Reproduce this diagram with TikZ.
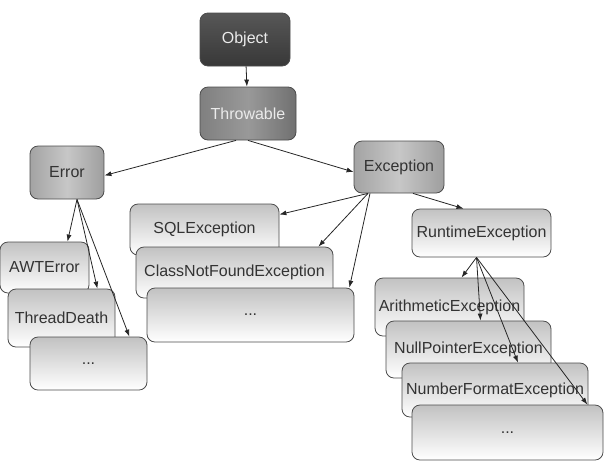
\documentclass[tikz,border=0pt]{standalone}
\usepackage{fontspec}
\setmainfont{Liberation Sans}
\usetikzlibrary{arrows.meta}
\tikzset{
  cls/.style={draw=black!70,line width=0.8pt,rounded corners=8pt,inner sep=2pt,
    font=\fontsize{16}{19}\selectfont,text=black!80},
  root/.style={cls,top color=black!66,bottom color=black!78,text=white!92!black},
  mid/.style={cls,left color=black!50,right color=black!56,middle color=black!40,text=white!92!black},
  base/.style={cls,left color=black!36,right color=black!38,middle color=black!22},
  leaf/.style={cls,top color=black!24,bottom color=white},
  link/.style={line width=0.8pt,draw=black!85}
}
\begin{document}
\begin{tikzpicture}[x=1pt,y=-1pt,>={Latex[length=7pt,width=5pt]}]
\useasboundingbox (0,0) rectangle (615,467);
\node[root,minimum width=90pt,minimum height=53pt] (obj) at (245,39.5) {Object};
\node[mid,minimum width=96pt,minimum height=53pt] (thr) at (248,113.5) {Throwable};
\node[base,minimum width=74pt,minimum height=53pt] (err) at (67,172.5) {Error};
\node[base,minimum width=90pt,minimum height=52pt] (exc) at (399,167) {Exception};
\node[leaf,minimum width=139pt,minimum height=48pt] (rt) at (481.5,233) {RuntimeException};
% Error subclasses
\node[leaf,minimum width=89pt,minimum height=51pt] (awt) at (44.5,267.5) {AWTError};
\node[leaf,minimum width=107pt,minimum height=58pt] (tde) at (61.5,318) {ThreadDeath};
\node[leaf,minimum width=117pt,minimum height=53pt] (ldots) at (88.5,363.5) {...};
% checked exceptions
\node[leaf,minimum width=149pt,minimum height=51pt] (sql) at (204.5,229.5) {SQLException};
\node[leaf,minimum width=197pt,minimum height=51pt] (cnf) at (234.5,272.5) {ClassNotFoundException};
\node[leaf,minimum width=207pt,minimum height=54pt] (mdots) at (250.5,315) {...};
% runtime exceptions
\node[leaf,minimum width=149pt,minimum height=58pt] (ari) at (449.5,307) {ArithmeticException};
\node[leaf,minimum width=165pt,minimum height=57pt] (npe) at (468.5,349.5) {NullPointerException};
\node[leaf,minimum width=186pt,minimum height=54pt] (nfe) at (495,390) {NumberFormatException};
\node[leaf,minimum width=191pt,minimum height=55pt] (rdots) at (507.5,432.5) {...};
\draw[link,->] (obj) -- (thr);
\draw[link,->] ([xshift=-12pt]thr.south) -- ([yshift=-3pt]err.east);
\draw[link,->] (thr.south) -- ([yshift=-5pt]exc.west);
\draw[link,->] ([xshift=-31pt]exc.south) -- ([yshift=15pt]sql.east);
\draw[link,->] ([xshift=-31pt]exc.south) -- ([xshift=-15pt]cnf.north east);
\draw[link,->] ([xshift=-29pt]exc.south) -- ([xshift=-5pt]mdots.north east);
\draw[link,->] ([xshift=14pt]exc.south) -- ([xshift=-18pt]rt.north);
\draw[link,->] ([xshift=-5pt]rt.south) -- ([xshift=12pt]ari.north);
\draw[link,->] ([xshift=-5pt]rt.south) -- ([xshift=12pt]npe.north);
\draw[link,->] ([xshift=-5pt]rt.south) -- ([xshift=23pt]nfe.north);
\draw[link,->] ([xshift=-5pt]rt.south) -- ([xshift=-16pt]rdots.north east);
\draw[link,->] ([xshift=10pt]err.south) -- ([xshift=23pt]awt.north);
\draw[link,->] ([xshift=10pt]err.south) -- ([xshift=-18pt]tde.north east);
\draw[link,->] ([xshift=10pt]err.south) -- ([xshift=-18pt]ldots.north east);
\end{tikzpicture}
\end{document}
